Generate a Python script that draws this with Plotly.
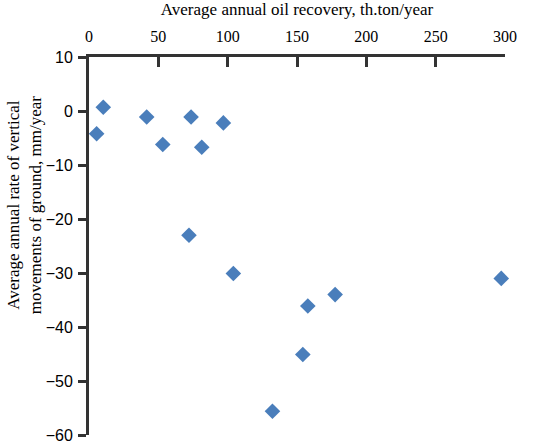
import plotly.graph_objects as go

oil_recovery = [5.5, 10.3, 41.6, 73.6, 96.9, 53.2, 81.3, 72.1, 104.1, 157.8, 177.5, 154.2, 132.3, 297.3]
vertical_rate = [-4.2, 0.7, -1.1, -1.1, -2.2, -6.2, -6.7, -23.0, -30.1, -36.1, -34.0, -45.1, -55.6, -31.0]

x_ticks = [0, 50, 100, 150, 200, 250, 300]
y_ticks = [10, 0, -10, -20, -30, -40, -50, -60]

x_title = "Average annual oil recovery, th.ton/year"
y_title = "Average annual rate of vertical<br>movements of ground, mm/year"

serif = "Liberation Serif, Times New Roman, serif"
sans = "Liberation Sans, Arial, sans-serif"
axis_color = "#333333"

fig = go.Figure()
fig.add_trace(go.Scatter(
    x=oil_recovery, y=vertical_rate, mode="markers",
    marker=dict(symbol="diamond", size=12, color="#4a7ebb",
                line=dict(width=0)),
    showlegend=False, cliponaxis=False,
))

fig.update_layout(
    width=535, height=446,
    margin=dict(l=89, r=30, t=57, b=11),
    plot_bgcolor="white", paper_bgcolor="white",
    xaxis=dict(
        side="top", range=[0, 300], tickvals=x_ticks,
        showgrid=False, zeroline=False, automargin=False,
        showline=True, linecolor=axis_color, linewidth=3,
        ticks="inside", ticklen=10, tickwidth=3, tickcolor=axis_color,
        tickfont=dict(family=serif, size=16, color="black"),
        ticklabelstandoff=6,
        title=dict(text=x_title, font=dict(family=serif, size=17, color="black"), standoff=8),
    ),
    yaxis=dict(
        range=[-60, 10], tickvals=y_ticks,
        showgrid=False, zeroline=False, automargin=False,
        showline=True, linecolor=axis_color, linewidth=3,
        ticks="outside", ticklen=8, tickwidth=3, tickcolor=axis_color,
        tickfont=dict(family=sans, size=16, color="black"),
        ticklabelstandoff=2,
    ),
    annotations=[dict(
        text=y_title, xref="paper", yref="paper", x=0, y=0.608,
        xanchor="center", yanchor="middle", xshift=-65, textangle=-90,
        showarrow=False, font=dict(family=serif, size=17, color="black"),
    )],
)

fig.write_html("out.html")
